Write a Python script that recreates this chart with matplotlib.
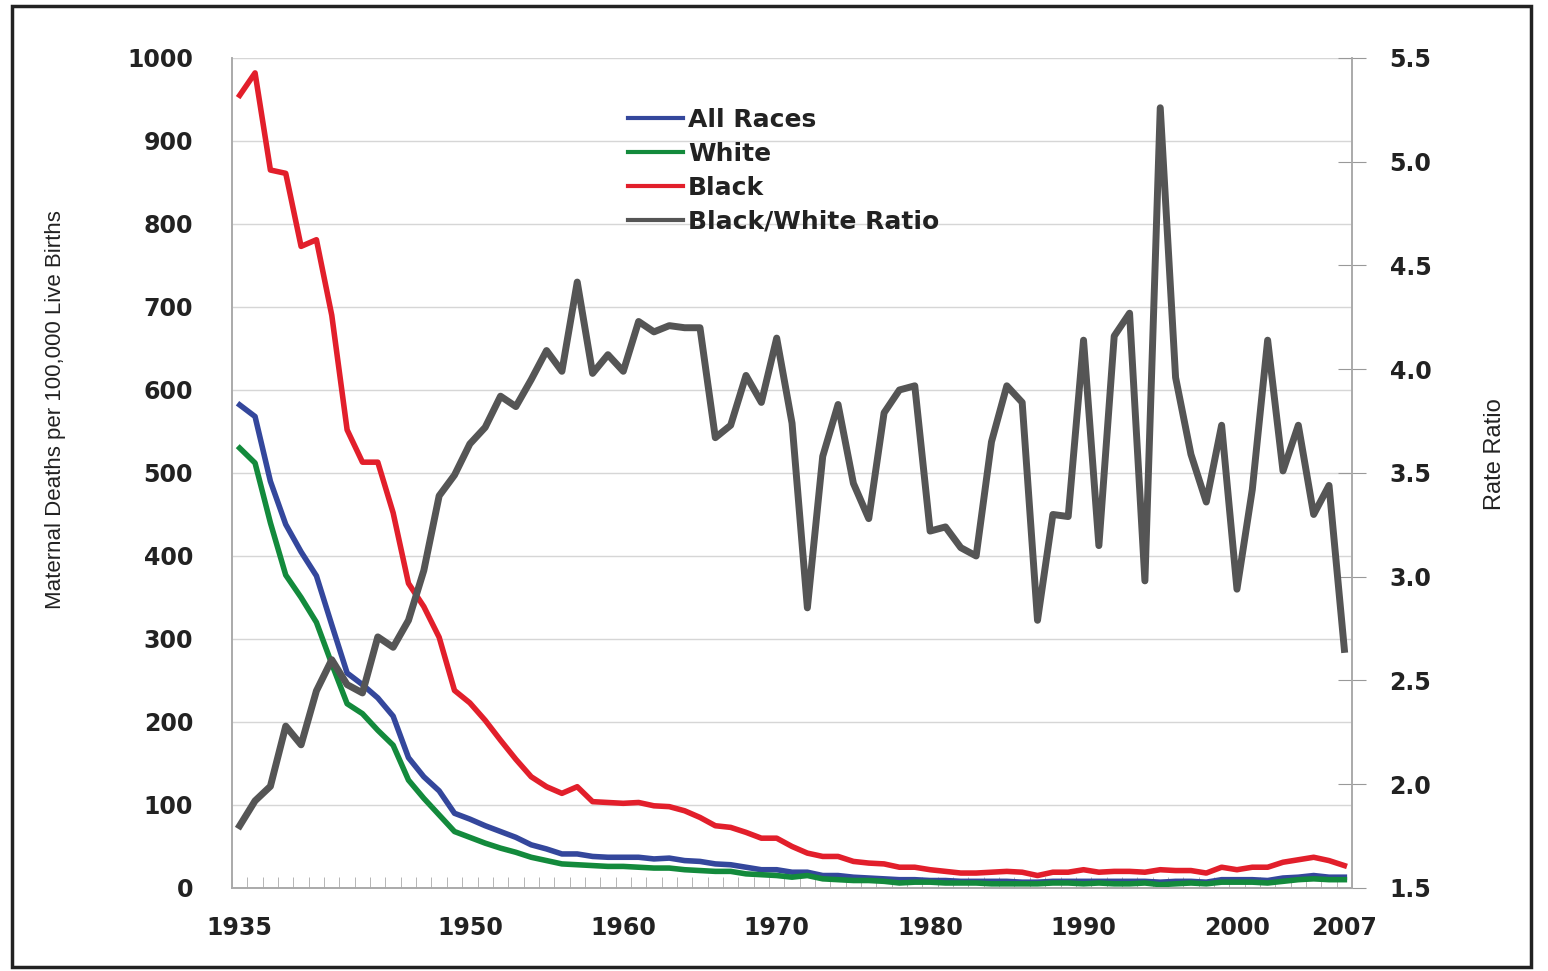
import matplotlib.pyplot as plt
import numpy as np
from matplotlib.patches import Rectangle

years = np.arange(1935, 2008)

all_races = [582, 568, 490, 438, 405, 376, 317, 259, 245, 229,
             207, 157, 134, 117, 90, 83, 75, 68, 61, 52,
             47, 41, 41, 38, 37, 37, 37, 35, 36, 33,
             32, 29, 28, 25, 22, 22, 19, 19, 15, 15,
             13, 12, 11, 10, 10, 9, 9, 8, 8, 8,
             8, 7, 7, 8, 8, 8, 8, 8, 8, 8,
             7, 8, 8, 7, 10, 10, 10, 9, 12, 13,
             15, 13, 13]

white = [530, 512, 440, 377, 350, 320, 270, 222, 210, 190,
         172, 130, 108, 88, 68, 61, 54, 48, 43, 37,
         33, 29, 28, 27, 26, 26, 25, 24, 24, 22,
         21, 20, 20, 17, 16, 15, 13, 15, 11, 10,
         9, 9, 8, 6, 7, 7, 6, 6, 6, 5,
         5, 5, 5, 6, 6, 5, 6, 5, 5, 6,
         4, 5, 6, 5, 7, 7, 7, 6, 8, 10,
         11, 10, 10]

black = [955, 982, 865, 861, 773, 781, 690, 552, 513, 513,
         452, 367, 339, 302, 238, 223, 202, 178, 155, 134,
         122, 114, 122, 104, 103, 102, 103, 99, 98, 93,
         85, 75, 73, 67, 60, 60, 50, 42, 38, 38,
         32, 30, 29, 25, 25, 22, 20, 18, 18, 19,
         20, 19, 15, 19, 19, 22, 19, 20, 20, 19,
         22, 21, 21, 18, 25, 22, 25, 25, 31, 34,
         37, 33, 27]

ratio = [1.80, 1.92, 1.99, 2.28, 2.19, 2.45, 2.60, 2.48, 2.44, 2.71,
         2.66, 2.79, 3.03, 3.39, 3.49, 3.64, 3.72, 3.87, 3.82, 3.95,
         4.09, 3.99, 4.42, 3.98, 4.07, 3.99, 4.23, 4.18, 4.21, 4.20,
         4.20, 3.67, 3.73, 3.97, 3.84, 4.15, 3.74, 2.85, 3.58, 3.83,
         3.45, 3.28, 3.79, 3.90, 3.92, 3.22, 3.24, 3.14, 3.10, 3.65,
         3.92, 3.84, 2.79, 3.30, 3.29, 4.14, 3.15, 4.16, 4.27, 2.98,
         5.26, 3.96, 3.59, 3.36, 3.73, 2.94, 3.42, 4.14, 3.51, 3.73,
         3.30, 3.44, 2.65]

year_labels = [1935, 1950, 1960, 1970, 1980, 1990, 2000, 2007]

fig = plt.figure(figsize=(15.48, 9.71), dpi=100)
ax = fig.add_axes([0.1499, 0.0855, 0.7235, 0.8548])
ax2 = ax.twinx()

l1, = ax.plot(years, all_races, color='#34479c', lw=4, label='All Races')
l2, = ax.plot(years, white, color='#138a3c', lw=4, label='White')
l3, = ax.plot(years, black, color='#e21f2b', lw=4, label='Black')
l4, = ax2.plot(years, ratio, color='#555555', lw=5, label='Black/White Ratio')

ax.set_xlim(1934.5, 2007.5)
ax.set_ylim(0, 1000)
ax2.set_ylim(1.5, 5.5)

ax.set_yticks(np.arange(0, 1001, 100))
ax.grid(axis='y', color='#d6d6d6', lw=1)
ax.set_axisbelow(True)
ax.tick_params(axis='y', length=0, pad=28, labelsize=17)
for t in ax.get_yticklabels():
    t.set_fontweight('bold')
    t.set_color('#222222')

ax.set_xticks(year_labels)
ax.set_xticks(np.arange(1934.5, 2008, 1), minor=True)
ax.tick_params(axis='x', which='major', length=0, pad=20, labelsize=17)
ax.tick_params(axis='x', which='minor', direction='in', length=8, color='#aaaaaa')
for t in ax.get_xticklabels():
    t.set_fontweight('bold')
    t.set_color('#222222')

ax2.set_yticks(np.arange(1.5, 5.51, 0.5))
ax2.set_yticklabels(['%.1f' % v for v in np.arange(1.5, 5.51, 0.5)])
ax2.tick_params(axis='y', direction='inout', length=20, color='#999999', pad=17, labelsize=17)
for t in ax2.get_yticklabels():
    t.set_fontweight('bold')
    t.set_color('#222222')

for a in (ax, ax2):
    a.spines['top'].set_visible(False)
    for s in ('left', 'right', 'bottom'):
        a.spines[s].set_color('#aaaaaa')
        a.spines[s].set_linewidth(1.2)

fig.text(0.036, 0.578, 'Maternal Deaths per 100,000 Live Births', rotation=90,
         ha='center', va='center', fontsize=16,
         family=['Liberation Sans Narrow', 'Liberation Sans'], color='#222222')
fig.text(0.966, 0.532, 'Rate Ratio', rotation=90, ha='center', va='center',
         fontsize=17, family=['Liberation Sans Narrow', 'Liberation Sans'],
         color='#222222')

leg = ax2.legend(handles=[l1, l2, l3, l4], loc='upper left',
                 bbox_to_anchor=(0.391, 0.912), bbox_transform=fig.transFigure,
                 frameon=False, handlelength=2.2, handletextpad=0.2,
                 labelspacing=0.40, prop={'weight': 'bold', 'size': 18})
for h in leg.legend_handles:
    h.set_linewidth(3)
for t in leg.get_texts():
    t.set_color('#222222')

fig.patches.append(Rectangle((0.008, 0.004), 0.981, 0.99, transform=fig.transFigure,
                             fill=False, edgecolor='#222222', lw=2.5))

fig.savefig('out.png', dpi=100)
